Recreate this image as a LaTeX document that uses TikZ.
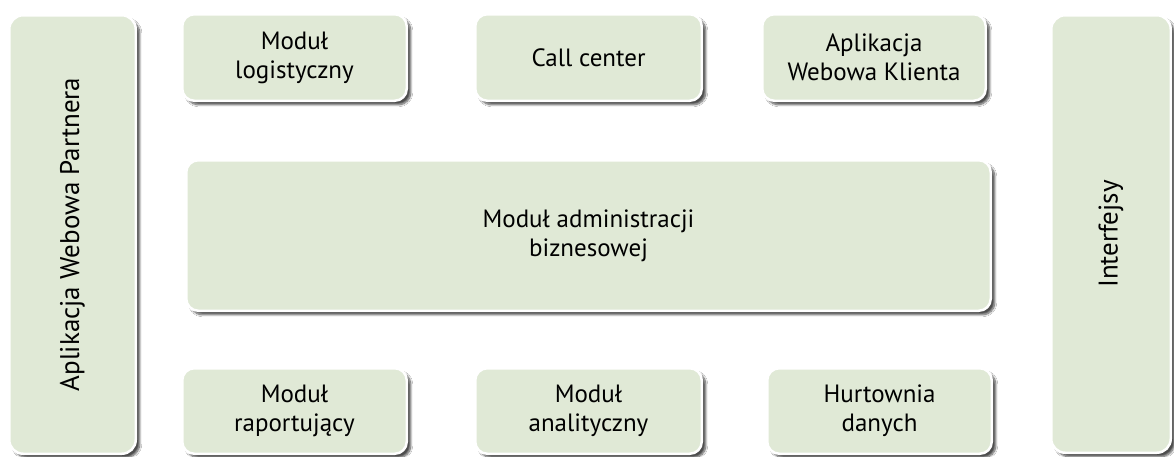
\documentclass[tikz,border=0pt]{standalone}
\usepackage{fontspec}
\setmainfont{PT Sans}
\usetikzlibrary{shadows.blur}
\definecolor{boxfill}{RGB}{224,233,214}
\tikzset{
  box/.style={draw=white, line width=2.5pt, fill=boxfill, rounded corners=12pt,
    align=center, text=black, font=\fontsize{25}{29}\selectfont, inner sep=0pt,
    blur shadow={shadow xshift=4pt, shadow yshift=-4pt, shadow blur steps=8, shadow opacity=70}},
  vtext/.style={rotate=90, text=black, font=\fontsize{27}{32}\selectfont},
}
\begin{document}
\begin{tikzpicture}[x=1pt,y=-1pt]
\useasboundingbox[fill=white] (0,0) rectangle (1174,456);
\node[box, minimum width=126.5pt, minimum height=438.5pt, rounded corners=14pt] (L) at (72.5,234.5) {};
\node[vtext] (Lt) at (L.center) {Aplikacja Webowa Partnera};
\node[box, minimum width=119.5pt, minimum height=437.5pt, rounded corners=14pt] (R) at (1111,234) {};
\node[vtext] (Rt) at (R.center) {Interfejsy};
\node[box, minimum width=224.5pt, minimum height=86.5pt] (T1) at (294.5,57.5) {Moduł\\logistyczny};
\node[box, minimum width=226.5pt, minimum height=86.5pt] (T2) at (588.5,57.5) {Call center};
\node[box, minimum width=223.5pt, minimum height=86.5pt] (T3) at (874,57.5) {Aplikacja\\Webowa Klienta};
\node[box, minimum width=804.5pt, minimum height=150.5pt] (M) at (588.5,235.5) {Moduł administracji\\biznesowej};
\node[box, minimum width=224.5pt, minimum height=85.5pt] (B1) at (294.5,411) {Moduł\\raportujący};
\node[box, minimum width=226.5pt, minimum height=85.5pt] (B2) at (588.5,411) {Moduł\\analityczny};
\node[box, minimum width=224.5pt, minimum height=85.5pt] (B3) at (879.5,411) {Hurtownia\\danych};
\end{tikzpicture}
\end{document}
